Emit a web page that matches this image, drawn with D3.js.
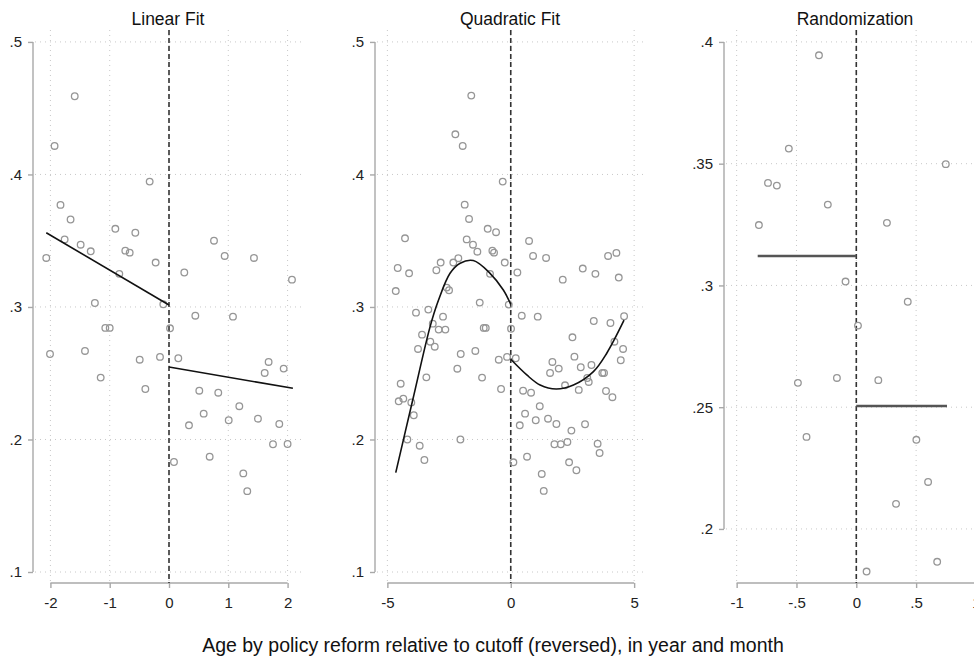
<!DOCTYPE html>
<html>
<head>
<meta charset="utf-8">
<script src="https://cdn.jsdelivr.net/npm/d3@7"></script>
<style>
  body { margin: 0; background: #fff; }
  svg { display: block; font-family: "Liberation Sans", Arial, sans-serif; }
</style>
</head>
<body>
<svg id="mainsvg" width="974" height="657"></svg>
<script>
// ---- data ----
var titles = ["Linear Fit", "Quadratic Fit", "Randomization"];
var xLabel = "Age by policy reform relative to cutoff (reversed), in year and month";

// panel 1: bins within bandwidth 2
var linX = [-2.07,-1.93,-1.59,-1.83,-1.66,-1.76,-1.49,-1.32,-1.25,-0.905,-0.737,-0.663,-0.568,-0.838,-0.326,-0.225,-0.096,0.258,0.759,0.939,1.433,2.074,
  -2.007,-1.417,-1.074,-1.0,-1.152,-0.494,-0.399,-0.152,0.017,0.157,0.444,1.079,0.511,0.831,0.585,0.337,1.186,1.007,1.50,1.68,1.614,1.934,1.86,1.754,2.0,0.084,0.686,1.253,1.32];
var linY = [.337,.4215,.459,.377,.366,.351,.347,.342,.303,.359,.3425,.341,.356,.325,.3946,.3335,.302,.326,.350,.3385,.337,.3206,
  .2645,.2668,.2842,.2842,.2467,.2602,.2381,.2623,.2839,.2613,.2934,.2927,.2368,.2353,.2195,.2107,.2251,.2145,.2157,.2585,.2502,.2535,.2117,.1964,.1966,.183,.187,.1744,.161];
var linFitLeft = [[-2.07, .356], [0, .3015]];
var linFitRight = [[0, .2547], [2.09, .2386]];

// panel 2: bins within bandwidth 5
var quadX = [-1.60,-2.245,-1.947,-0.326,-1.866,-1.69,-0.934,-0.596,-1.785,-1.53,-1.353,-0.745,-0.677,-4.285,-4.58,-4.12,-4.66,-2.84,-3.015,-2.327,-2.124,-2.595,-2.50,-0.84,-0.243,
  0.268,0.742,0.904,1.431,2.107,2.918,3.43,3.944,4.281,4.377,
  -3.84,-3.34,-2.745,-3.16,-2.92,-2.65,-1.095,-1.013,0.012,-1.257,-0.08,-3.595,-3.26,-3.08,-3.758,-1.435,-2.027,-0.15,-0.486,0.203,0.446,1.094,
  -2.165,-3.42,-1.163,-0.393,-4.46,-4.54,-4.354,-4.03,-3.93,-4.19,-3.69,-3.5,-2.04,
  0.5,0.823,0.58,0.365,1.175,1.013,1.51,1.687,1.593,1.945,1.85,1.77,2.027,2.295,2.2,2.5,2.58,2.837,2.756,2.457,3.01,2.364,2.66,0.66,0.107,1.256,1.337,
  3.364,4.04,4.593,4.2,4.552,4.458,3.27,3.16,3.1,3.71,3.78,3.86,4.12,3.52,3.6];
var quadY = [.4595,.4303,.4215,.3946,.3772,.3664,.359,.3564,.351,.347,.3417,.3425,.341,.3518,.3294,.3254,.312,.3335,.3277,.3335,.3368,.3146,.3126,.325,.3335,
  .326,.3498,.3385,.337,.3206,.329,.325,.3385,.3408,.3222,
  .2957,.298,.2927,.2874,.2829,.2829,.2842,.2842,.2836,.3033,.3018,.2791,.2738,.27,.2683,.2668,.2645,.2623,.2602,.2613,.2934,.2927,
  .2534,.2469,.2467,.2381,.2421,.2288,.2308,.228,.2183,.2,.1953,.1845,.2,
  .2368,.2353,.2195,.2107,.2251,.2145,.2157,.2585,.2502,.2535,.2117,.1964,.1964,.1981,.2409,.2771,.2625,.2545,.2374,.2067,.2115,.1828,.1768,.187,.1828,.174,.1612,
  .2894,.2879,.293,.2738,.2683,.2598,.2562,.2434,.2464,.2502,.2502,.2366,.2319,.1968,.1898];
var quadFitLeft = [[-4.66,.175],[-3.97,.230],[-3.27,.285],[-2.93,.305],[-2.46,.3254],[-2.05,.333],[-1.52,.335],[-0.84,.3254],[-0.3,.3128],[0,.302]];
var quadFitRight = [[0,.2605],[0.65,.2487],[1.19,.2411],[1.84,.2381],[2.54,.2411],[3.35,.2512],[3.89,.2651],[4.59,.290]];

// panel 3: bins within a narrow window
var randX = [-0.312,-0.564,-0.738,-0.664,-0.814,-0.238,-0.09,0.748,0.256,0.43,0.014,-0.162,-0.488,0.184,-0.416,0.502,0.60,0.332,0.676,0.086];
var randY = [.3945,.3562,.3421,.341,.3248,.3332,.3016,.3498,.3257,.2933,.2835,.262,.26,.2611,.2378,.2366,.2193,.2103,.1865,.1825];
var randMeanLeft = [[-0.824, .3121], [0, .3121]];
var randMeanRight = [[0, .2505], [0.758, .2505]];

var xTicks = [[-2,-1,0,1,2], [-5,0,5], [-1,-0.5,0,0.5,1]];
var yTicks = [[.1,.2,.3,.4,.5], [.1,.2,.3,.4,.5], [.2,.25,.3,.35,.4]];

// ---- layout ----
var svg = d3.select("#mainsvg");
var plotTop = 30, plotBottom = 583;
var panels = [
  { xr: [35, 303], xd: [-2.26, 2.26], yd: [.0917, .509], pts: [linX, linY], fits: [linFitLeft, linFitRight], curve: d3.curveLinear, fitColor: "#111", fitW: 1.6 },
  { xr: [377, 645], xd: [-5.42, 5.44], yd: [.0917, .509], pts: [quadX, quadY], fits: [quadFitLeft, quadFitRight], curve: d3.curveCatmullRom, fitColor: "#111", fitW: 1.6 },
  { xr: [726, 986], xd: [-1.089, 1.084], yd: [.1778, .4049], pts: [randX, randY], fits: [randMeanLeft, randMeanRight], curve: d3.curveLinear, fitColor: "#555", fitW: 2.4 }
];

function fmt(d) {
  return String(+d.toFixed(3)).replace(/^0\./, ".").replace(/^-0\./, "-.");
}

panels.forEach(function (p, i) {
  var x = d3.scaleLinear().domain(p.xd).range(p.xr);
  var y = d3.scaleLinear().domain(p.yd).range([plotBottom, plotTop]);
  var g = svg.append("g");

  // dotted grid
  g.selectAll(".hg").data(yTicks[i]).enter().append("line")
    .attr("x1", p.xr[0]).attr("x2", p.xr[1])
    .attr("y1", function (d) { return y(d); }).attr("y2", function (d) { return y(d); })
    .attr("stroke", "#c8c8c8").attr("stroke-width", 1).attr("stroke-dasharray", "1,4");
  g.selectAll(".vg").data(xTicks[i]).enter().append("line")
    .attr("x1", function (d) { return x(d); }).attr("x2", function (d) { return x(d); })
    .attr("y1", plotTop).attr("y2", plotBottom)
    .attr("stroke", "#c8c8c8").attr("stroke-width", 1).attr("stroke-dasharray", "1,4");

  // y axis
  var ya = g.append("g").attr("transform", "translate(" + (p.xr[0] - 2) + ",0)")
    .call(d3.axisLeft(y).tickValues(yTicks[i]).tickSize(5).tickPadding(6).tickFormat(fmt));
  ya.select(".domain").remove();
  ya.append("line")
    .attr("y1", y(yTicks[i][0])).attr("y2", y(yTicks[i][yTicks[i].length - 1]));
  // x axis
  var xa = g.append("g").attr("transform", "translate(0," + plotBottom + ")")
    .call(d3.axisBottom(x).tickValues(xTicks[i]).tickSize(5).tickPadding(9).tickFormat(fmt));
  xa.select(".domain").remove();
  xa.append("line")
    .attr("x1", x(xTicks[i][0])).attr("x2", x(xTicks[i][xTicks[i].length - 1]));
  [ya, xa].forEach(function (a) {
    a.selectAll("line").attr("stroke", "#a8a8a8").attr("stroke-width", 1.4);
    a.selectAll("text").attr("fill", "#222").style("font-size", "15px")
      .style("font-family", "Liberation Sans, Arial, sans-serif");
  });

  // cutoff
  g.append("line")
    .attr("x1", x(0)).attr("x2", x(0)).attr("y1", plotTop).attr("y2", plotBottom)
    .attr("stroke", "#333").attr("stroke-width", 1.6).attr("stroke-dasharray", "5,3");

  // markers
  var xs = p.pts[0], ys = p.pts[1];
  g.selectAll("circle").data(d3.range(xs.length)).enter().append("circle")
    .attr("cx", function (k) { return x(xs[k]); })
    .attr("cy", function (k) { return y(ys[k]); })
    .attr("r", 3.3)
    .attr("fill", "none").attr("stroke", "#969696").attr("stroke-width", 1.3);

  // fits
  var line = d3.line()
    .x(function (d) { return x(d[0]); })
    .y(function (d) { return y(d[1]); })
    .curve(p.curve);
  p.fits.forEach(function (f) {
    g.append("path").attr("d", line(f))
      .attr("fill", "none").attr("stroke", p.fitColor).attr("stroke-width", p.fitW);
  });

  // title
  svg.append("text")
    .attr("x", (p.xr[0] + p.xr[1]) / 2 - 1).attr("y", 25)
    .attr("text-anchor", "middle").attr("fill", "#111")
    .style("font-size", "17.5px").text(titles[i]);
});

svg.append("text")
  .attr("x", 493).attr("y", 652).attr("text-anchor", "middle").attr("fill", "#111")
  .style("font-size", "19.5px").text(xLabel);
</script>
</body>
</html>
